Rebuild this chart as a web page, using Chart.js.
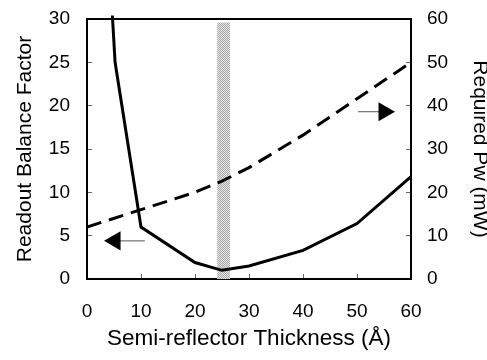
<!DOCTYPE html>
<html>
<head>
<meta charset="utf-8">
<script src="https://cdn.jsdelivr.net/npm/chart.js@4"></script>
<style>
  html, body { margin: 0; padding: 0; background: #fff; }
</style>
</head>
<body>
<canvas id="chart" width="487" height="360"></canvas>
<script>
// Readout balance factor (left axis, solid)
const balanceX = [4.7, 5.2, 10, 20, 25, 30, 40, 50, 60];
const balanceY = [30.4, 25, 6, 1.9, 1.0, 1.5, 3.3, 6.4, 11.8];

// Required Pw in mW (right axis, dashed)
const powerX = [0, 10, 20, 25, 30, 40, 50, 60];
const powerY = [12, 16, 20, 22.6, 25.7, 33.2, 41.6, 50];

// shaded optimum band
const bandX = [24.1, 26.5];
const bandTop = 29.6;

// arrows: shaft from/to and head, in data units
const leftArrowShaftX = [5.2, 10.7];
const leftArrowY = 4.4;          // left axis
const rightArrowShaftX = [50.2, 55.0];
const rightArrowY = 38.6;        // right axis

const xTicks = [0, 10, 20, 30, 40, 50, 60];

const FONT = "'Liberation Sans', Arial, sans-serif";

// stipple pattern for the band
const pc = document.createElement('canvas');
pc.width = 2; pc.height = 2;
const pctx = pc.getContext('2d');
pctx.fillStyle = '#e4e4e4';
pctx.fillRect(0, 0, 2, 2);
pctx.fillStyle = '#a9a9a9';
pctx.fillRect(0, 0, 1, 1);
pctx.fillRect(1, 1, 1, 1);
const stipple = document.getElementById('chart').getContext('2d').createPattern(pc, 'repeat');

const pts = (xs, ys) => xs.map((x, i) => ({ x, y: Array.isArray(ys) ? ys[i] : ys }));

// no extra room for tick label overflow, the boxes are sized by hand
const noPad = s => { s.paddingTop = 0; s.paddingBottom = 0; s.paddingLeft = 0; s.paddingRight = 0; };

// top edge of the plot frame
const topFrame = {
  id: 'topFrame',
  afterDraw(chart) {
    const { ctx, chartArea: a } = chart;
    ctx.save();
    ctx.strokeStyle = '#000';
    ctx.lineWidth = 2;
    ctx.beginPath();
    ctx.moveTo(a.left - 1, a.top);
    ctx.lineTo(a.right + 1, a.top);
    ctx.stroke();
    ctx.restore();
  }
};

new Chart(document.getElementById('chart').getContext('2d'), {
  type: 'line',
  data: {
    datasets: [
      {
        data: pts([leftArrowShaftX[0]], leftArrowY),
        yAxisID: 'y',
        showLine: false,
        pointStyle: 'triangle',
        rotation: -90,
        pointRadius: 11,
        pointBackgroundColor: '#000',
        pointBorderWidth: 0
      },
      {
        data: pts([rightArrowShaftX[1]], rightArrowY),
        yAxisID: 'y2',
        showLine: false,
        pointStyle: 'triangle',
        rotation: 90,
        pointRadius: 11,
        pointBackgroundColor: '#000',
        pointBorderWidth: 0
      },
      {
        data: pts(leftArrowShaftX, leftArrowY),
        yAxisID: 'y',
        borderColor: '#555',
        borderWidth: 1,
        pointRadius: 0
      },
      {
        data: pts(rightArrowShaftX, rightArrowY),
        yAxisID: 'y2',
        borderColor: '#555',
        borderWidth: 1,
        pointRadius: 0
      },
      {
        data: pts(balanceX, balanceY),
        yAxisID: 'y',
        borderColor: '#000',
        borderWidth: 3,
        pointRadius: 0,
        tension: 0,
        clip: false
      },
      {
        data: pts(powerX, powerY),
        yAxisID: 'y2',
        borderColor: '#000',
        borderWidth: 3,
        borderDash: [15, 8],
        pointRadius: 0,
        tension: 0
      },
      {
        data: pts(bandX, bandTop),
        yAxisID: 'y',
        borderWidth: 0,
        pointRadius: 0,
        fill: 'origin',
        backgroundColor: stipple
      }
    ]
  },
  plugins: [topFrame],
  options: {
    responsive: false,
    animation: false,
    layout: { padding: { top: 19, left: 0, right: 0, bottom: 0 } },
    plugins: { legend: { display: false }, tooltip: { enabled: false } },
    scales: {
      x: {
        type: 'linear',
        position: 'bottom',
        min: 0, max: 60,
        afterBuildTicks: s => { s.ticks = xTicks.map(v => ({ value: v })); },
        afterFit: s => { s.height = 81; noPad(s); },
        border: { display: true, color: '#000', width: 2 },
        grid: { drawOnChartArea: false, drawTicks: true, tickLength: -5, color: '#666' },
        ticks: { color: '#000', font: { family: FONT, size: 19 }, padding: 26, maxRotation: 0 },
        title: {
          display: true,
          text: 'Semi-reflector Thickness (Å)',
          color: '#000',
          font: { family: FONT, size: 22.5 },
          padding: { top: 0, bottom: 8 }
        }
      },
      y: {
        type: 'linear',
        position: 'left',
        min: 0, max: 30,
        ticks: { stepSize: 5, color: '#000', font: { family: FONT, size: 19 }, padding: 22 },
        afterFit: s => { s.width = 87; noPad(s); },
        border: { display: true, color: '#000', width: 2 },
        grid: { drawOnChartArea: false, drawTicks: true, tickLength: -5, color: '#666' },
        title: {
          display: true,
          text: 'Readout Balance Factor',
          color: '#000',
          font: { family: FONT, size: 21, lineHeight: 1 },
          padding: { top: 15, bottom: 0 }
        }
      },
      y2: {
        type: 'linear',
        position: 'right',
        min: 0, max: 60,
        ticks: { stepSize: 10, color: '#000', font: { family: FONT, size: 19 }, padding: 21 },
        afterFit: s => { s.width = 76; noPad(s); },
        border: { display: true, color: '#000', width: 2 },
        grid: { drawOnChartArea: false, drawTicks: true, tickLength: -5, color: '#666' },
        title: {
          display: true,
          text: 'Required Pw (mW)',
          color: '#000',
          font: { family: FONT, size: 21, lineHeight: 0.6 },
          padding: { top: 1, bottom: 0 }
        }
      }
    }
  }
});
</script>
</body>
</html>
